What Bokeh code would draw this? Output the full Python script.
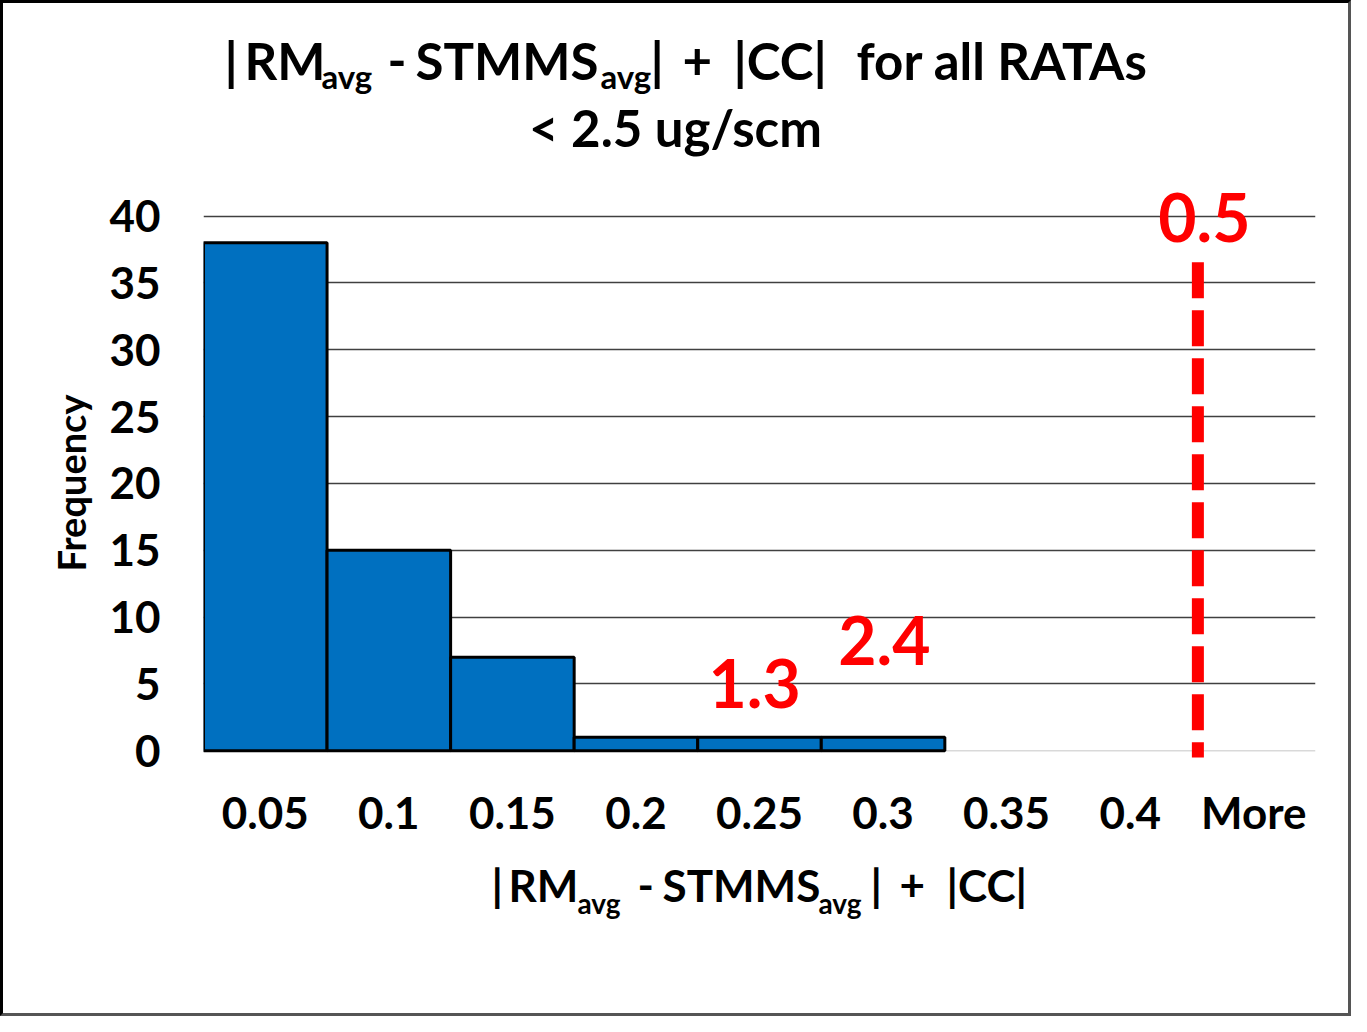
from bokeh.plotting import figure
from bokeh.layouts import column
from bokeh.models import FactorRange, Range1d, FixedTicker, Span
from bokeh.core.properties import value
from bokeh.embed import file_html
from bokeh.resources import INLINE

# ---- data ----
categories = ["0.05", "0.1", "0.15", "0.2", "0.25", "0.3", "0.35", "0.4", "More"]
frequency = [38, 15, 7, 1, 1, 1, 0, 0, 0]
y_ticks = [0, 5, 10, 15, 20, 25, 30, 35, 40]

# red annotations (text, x in category units, y in frequency units)
note_texts = ["1.3", "2.4", "0.5"]
note_x = [4.46, 5.51, 8.10]
note_y = [5.04, 8.21, 39.88]
limit_x = 8.048         # dashed red marker position (category units)
limit_top = 36.54
limit_bottom = -0.5

FONT = "Lato"
W = 1345
H_TITLE, H_MAIN, H_XT = 165, 680, 165
BL, BR = 200, 33
FRAME_L, FRAME_R = BL, W - BR
FRAME_H = 629
PX_PER_UNIT = 13.365
ZERO_FROM_TOP = 582.2   # pixels from frame top down to frequency 0


def blank_fig(h):
    f = figure(width=W, height=h, x_range=Range1d(FRAME_L, FRAME_R), y_range=Range1d(h, 0),
               min_border_left=BL, min_border_right=BR, min_border_top=0, min_border_bottom=0,
               output_backend="svg", toolbar_location=None,
               background_fill_color="white", border_fill_color="white")
    f.axis.visible = False
    f.grid.visible = False
    f.outline_line_color = None
    return f


def piece(f, text, x, y, size, align="left", color="black"):
    f.text(x=[x], y=[y], text=[text], text_font=value(FONT), text_font_style="bold",
           text_font_size=value(size), text_color=color, text_align=align,
           text_baseline="alphabetic")


# ---- title ----
t = blank_fig(H_TITLE)
T1, TS = "51px", "33px"
piece(t, "|", 221, 57, T1)
piece(t, "RM", 241, 57, T1)
piece(t, "avg", 318, 72, TS)
piece(t, "-", 384, 57, T1)
piece(t, "STMMS", 412, 57, T1)
piece(t, "avg", 597, 72, TS)
piece(t, "|", 647, 57, T1)
piece(t, "+", 679, 57, T1)
piece(t, "|CC|", 730, 57, T1)
piece(t, "for all RATAs", 853, 57, T1)
piece(t, "< 2.5 ug/scm", 672, 124, T1, align="center")

# ---- main chart ----
y_end = ZERO_FROM_TOP / PX_PER_UNIT
y_start = -(FRAME_H - ZERO_FROM_TOP) / PX_PER_UNIT
p = figure(
    x_range=FactorRange(*categories, range_padding=0),
    y_range=Range1d(y_start, y_end),
    width=W, height=H_MAIN,
    min_border_left=BL, min_border_right=BR, min_border_top=0,
    min_border_bottom=H_MAIN - FRAME_H,
    output_backend="svg", toolbar_location=None,
    background_fill_color="white", border_fill_color="white",
)
p.outline_line_color = None

p.xgrid.grid_line_color = None
p.ygrid.ticker = FixedTicker(ticks=y_ticks[1:])
p.ygrid.grid_line_color = "#404040"
p.ygrid.grid_line_width = 1.5
p.add_layout(Span(location=0, dimension="width", line_color="#d9d9d9",
                  line_width=1.5, level="underlay"))

for ax in (p.xaxis[0], p.yaxis[0]):
    ax.axis_line_color = None
    ax.major_tick_line_color = None
    ax.minor_tick_line_color = None
    ax.major_label_text_font = FONT
    ax.major_label_text_font_style = "bold"
    ax.major_label_text_font_size = "44px"
    ax.major_label_text_color = "black"

p.yaxis.ticker = FixedTicker(ticks=y_ticks)
p.yaxis.major_label_standoff = 37
p.yaxis.axis_label = "Frequency"
p.yaxis.axis_label_text_font = FONT
p.yaxis.axis_label_text_font_style = "bold"
p.yaxis.axis_label_text_font_size = "38px"
p.yaxis.axis_label_text_color = "black"
p.yaxis.axis_label_standoff = 12
p.xaxis.major_label_standoff = -18

bar_x = [c for c, f in zip(categories, frequency) if f > 0]
bar_top = [f for f in frequency if f > 0]
p.vbar(x=bar_x, top=bar_top, bottom=0, width=1.0,
       fill_color="#0070C0", line_color="black", line_width=3)

p.segment(x0=[limit_x], y0=[limit_top], x1=[limit_x], y1=[limit_bottom],
          line_color="#FF0000", line_width=12, line_dash="36 12", line_cap="butt")

p.text(x=note_x, y=note_y, text=note_texts, text_font=value(FONT), text_font_style="bold",
       text_font_size=value("66px"), text_color="#FF0000", text_align="center",
       text_baseline="alphabetic")

# ---- x-axis title ----
xt = blank_fig(H_XT)
X1, XS = "44px", "28px"
piece(xt, "|", 488, 36, X1)
piece(xt, "RM", 505, 36, X1)
piece(xt, "avg", 574, 54, XS)
piece(xt, "-", 634, 36, X1)
piece(xt, "STMMS", 659, 36, X1)
piece(xt, "avg", 815, 54, XS)
piece(xt, "|", 867, 36, X1)
piece(xt, "+", 896, 36, X1)
piece(xt, "|CC|", 943, 36, X1)

layout = column(t, p, xt, spacing=0)
layout.styles = {
    "border-left": "3px solid #000000",
    "border-top": "3px solid #000000",
    "border-right": "3px solid #555555",
    "border-bottom": "3px solid #555555",
}

open("out.html", "w").write(file_html(layout, INLINE))
